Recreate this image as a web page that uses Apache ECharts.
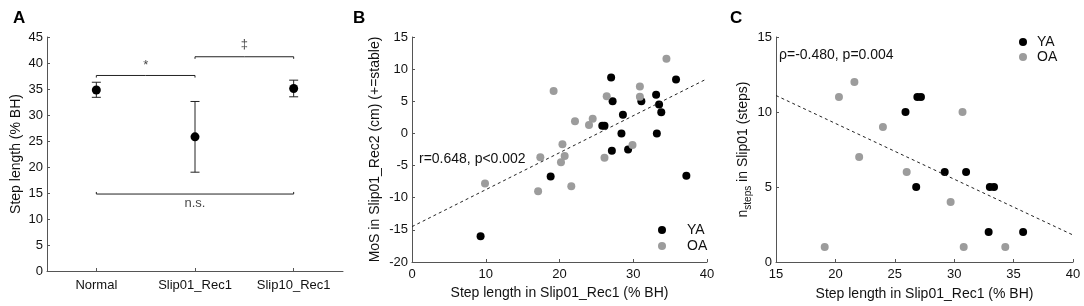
<!DOCTYPE html>
<html>
<head>
<meta charset="utf-8">
<script src="https://cdn.jsdelivr.net/npm/echarts@6/dist/echarts.min.js"></script>
<style>
  html, body { margin: 0; padding: 0; background: #fff; }
  #chart { width: 1084px; height: 306px; }
</style>
</head>
<body>
<div id="chart"></div>
<script>
// panel A: mean step length with error bars
var conditions = ['Normal', 'Slip01_Rec1', 'Slip10_Rec1']
var stepMean = [34.8, 25.8, 35.1]
var stepLow = [33.4, 19.0, 33.5]
var stepHigh = [36.3, 32.6, 36.7]
// brackets: [fromIndex, toIndex, height, label, direction]
var brackets = [
  [0, 1, 37.6, '*', -1],
  [1, 2, 41.2, '‡', -1],
  [0, 2, 14.8, 'n.s.', 1]
]

// panel B: step length vs MoS
var mosYA = [
  [27.0, 8.7], [27.2, 5.0], [35.8, 8.4], [33.1, 6.0], [33.5, 4.5], [33.8, 3.3],
  [31.1, 5.0], [28.6, 2.9], [25.8, 1.2], [26.1, 1.2], [28.4, 0.0], [33.2, 0.0],
  [27.1, -2.7], [29.3, -2.5], [18.8, -6.7], [37.2, -6.6], [9.3, -16.0]
]
var mosOA = [
  [34.5, 11.6], [30.9, 7.3], [30.9, 5.7], [19.2, 6.6], [26.4, 5.8], [22.1, 1.9],
  [24.5, 2.3], [24.0, 1.3], [20.4, -1.7], [29.9, -1.8], [20.7, -3.5], [20.2, -4.5],
  [17.4, -3.7], [26.1, -3.8], [21.6, -8.2], [17.1, -9.0], [9.9, -7.8]
]
var mosFit = [[0, -14.5], [40, 8.5]]

// panel C: step length vs number of steps
var stepsYA = [
  [26.9, 11], [27.2, 11], [25.9, 10], [29.2, 6], [31.0, 6], [26.8, 5],
  [33.0, 5], [33.35, 5], [32.9, 2], [35.8, 2]
]
var stepsOA = [
  [21.6, 12], [20.3, 11], [30.7, 10], [24.0, 9], [22.0, 7], [26.0, 6],
  [29.7, 4], [19.1, 1], [30.8, 1], [34.3, 1]
]
var stepsFit = [[15, 11.1], [40, 1.8]]

var axisColor = '#555'
var grayDot = '#9c9c9c'
var font = 'Arial, "Liberation Sans", sans-serif'

function valueAxis(gridIndex, min, max, interval, extra) {
  return Object.assign({
    type: 'value',
    gridIndex: gridIndex,
    min: min,
    max: max,
    interval: interval,
    splitLine: { show: false },
    axisLine: { show: true, onZero: false, lineStyle: { color: axisColor, width: 1 } },
    axisTick: { show: true, inside: true, length: 3, lineStyle: { color: axisColor } },
    axisLabel: { color: '#111', fontSize: 13, fontFamily: font, margin: 4 },
    nameLocation: 'middle',
    nameTextStyle: { color: '#111', fontSize: 14, fontFamily: font }
  }, extra || {})
}

function bracketLine(b) {
  var x1 = b[0], x2 = b[1], y = b[2], d = b[4] * 0.4
  var mid = (x1 + x2) / 2
  return [[x1, y + d], [x1, y], [mid, y], [mid, y - d * 0.6], [mid, y], [x2, y], [x2, y + d]]
}

var bracketSeries = brackets.map(function (b) {
  return {
    type: 'line',
    xAxisIndex: 1,
    yAxisIndex: 0,
    data: bracketLine(b),
    symbol: 'none',
    lineStyle: { color: '#222', width: 1 },
    silent: true
  }
})

var chart = echarts.init(document.getElementById('chart'))
chart.setOption({
  animation: false,
  textStyle: { fontFamily: font },
  grid: [
    { left: 47, right: 741, top: 37, bottom: 35 },
    { left: 412, right: 377, top: 37, bottom: 44 },
    { left: 776, right: 11, top: 37, bottom: 44 }
  ],
  title: [
    { text: 'A', left: 8, top: 5, textStyle: { fontSize: 17, fontWeight: 'bold', color: '#000', fontFamily: font } },
    { text: 'B', left: 348, top: 5, textStyle: { fontSize: 17, fontWeight: 'bold', color: '#000', fontFamily: font } },
    { text: 'C', left: 725, top: 5, textStyle: { fontSize: 17, fontWeight: 'bold', color: '#000', fontFamily: font } }
  ],
  legend: [
    {
      data: ['YA', 'OA'].map(function (n) { return { name: n } }),
      orient: 'vertical',
      left: 653,
      top: 218,
      itemWidth: 8,
      itemHeight: 8,
      itemGap: 2,
      icon: 'circle',
      textStyle: { fontSize: 14, color: '#111', padding: [0, 0, 0, 16] },
      selectedMode: false
    },
    {
      data: ['YA ', 'OA '].map(function (n) { return { name: n } }),
      orient: 'vertical',
      left: 1014,
      top: 30,
      itemWidth: 8,
      itemHeight: 8,
      itemGap: 1,
      icon: 'circle',
      textStyle: { fontSize: 14, color: '#111', padding: [0, 0, 0, 5] },
      selectedMode: false
    }
  ],
  xAxis: [
    {
      type: 'category',
      gridIndex: 0,
      data: conditions,
      axisLine: { lineStyle: { color: axisColor } },
      axisTick: { show: true, inside: true, length: 3, alignWithLabel: true, lineStyle: { color: axisColor } },
      axisLabel: { color: '#111', fontSize: 13, fontFamily: font, margin: 8 }
    },
    { type: 'value', gridIndex: 0, min: -0.5, max: 2.5, show: false },
    valueAxis(1, 0, 40, 10, { name: 'Step length in Slip01_Rec1 (% BH)', nameGap: 24, axisLabel: { color: '#111', fontSize: 13, fontFamily: font, margin: 6 } }),
    valueAxis(2, 15, 40, 5, { name: 'Step length in Slip01_Rec1 (% BH)', nameGap: 25, axisLabel: { color: '#111', fontSize: 13, fontFamily: font, margin: 6 } })
  ],
  yAxis: [
    valueAxis(0, 0, 45, 5, { name: 'Step length (% BH)', nameGap: 24 }),
    valueAxis(1, -20, 15, 5, { name: 'MoS in Slip01_Rec2 (cm) (+=stable)', nameGap: 30 }),
    valueAxis(2, 0, 15, 5, {
      name: '{a|n}{b|steps}{a| in Slip01 (steps)}',
      nameGap: 21,
      nameTextStyle: {
        color: '#111',
        fontFamily: font,
        rich: {
          a: { fontSize: 14, color: '#111', fontFamily: font, lineHeight: 18 },
          b: { fontSize: 10, color: '#111', fontFamily: font, padding: [10, 0, 0, 0] }
        }
      }
    })
  ],
  graphic: [
    { type: 'text', left: 419, top: 152, style: { text: 'r=0.648, p<0.002', fontSize: 14, fontFamily: font, fill: '#111' } },
    { type: 'text', left: 779, top: 48, style: { text: 'ρ=-0.480, p=0.004', fontSize: 14, fontFamily: font, fill: '#111' } }
  ],
  series: [
    {
      type: 'custom',
      xAxisIndex: 0,
      yAxisIndex: 0,
      data: stepLow.map(function (lo, i) { return [i, lo, stepHigh[i]] }),
      renderItem: function (params, api) {
        var lo = api.coord([api.value(0), api.value(1)])
        var hi = api.coord([api.value(0), api.value(2)])
        var w = 4.5
        var st = { stroke: '#222', lineWidth: 1 }
        return {
          type: 'group',
          children: [
            { type: 'line', shape: { x1: lo[0], y1: lo[1], x2: hi[0], y2: hi[1] }, style: st },
            { type: 'line', shape: { x1: lo[0] - w, y1: lo[1], x2: lo[0] + w, y2: lo[1] }, style: st },
            { type: 'line', shape: { x1: hi[0] - w, y1: hi[1], x2: hi[0] + w, y2: hi[1] }, style: st }
          ]
        }
      },
      silent: true,
      z: 2
    },
    {
      type: 'scatter',
      xAxisIndex: 0,
      yAxisIndex: 0,
      data: stepMean,
      symbolSize: 9,
      itemStyle: { color: '#000', opacity: 1 },
      z: 3
    }
  ].concat(bracketSeries).concat([
    {
      type: 'scatter',
      xAxisIndex: 1,
      yAxisIndex: 0,
      data: brackets.map(function (b) {
        var up = b[4] < 0 ? (b[3] === '*' ? 1.9 : 2.4) : -1.8
        return [(b[0] + b[1]) / 2, b[2] + up, b[3]]
      }),
      symbolSize: 0,
      label: {
        show: true,
        position: 'inside',
        formatter: function (p) { return p.value[2] },
        color: '#111',
        fontSize: 13,
        fontFamily: font
      },
      silent: true
    },
    {
      name: 'YA',
      type: 'scatter',
      xAxisIndex: 2,
      yAxisIndex: 1,
      data: mosYA,
      symbolSize: 8,
      itemStyle: { color: '#000', opacity: 1 }
    },
    {
      name: 'OA',
      type: 'scatter',
      xAxisIndex: 2,
      yAxisIndex: 1,
      data: mosOA,
      symbolSize: 8,
      itemStyle: { color: grayDot, opacity: 1 }
    },
    {
      type: 'line',
      xAxisIndex: 2,
      yAxisIndex: 1,
      data: mosFit,
      symbol: 'none',
      lineStyle: { color: '#222', width: 1, type: [3, 3] },
      silent: true
    },
    {
      name: 'YA ',
      type: 'scatter',
      xAxisIndex: 3,
      yAxisIndex: 2,
      data: stepsYA,
      symbolSize: 8,
      itemStyle: { color: '#000', opacity: 1 }
    },
    {
      name: 'OA ',
      type: 'scatter',
      xAxisIndex: 3,
      yAxisIndex: 2,
      data: stepsOA,
      symbolSize: 8,
      itemStyle: { color: grayDot, opacity: 1 }
    },
    {
      type: 'line',
      xAxisIndex: 3,
      yAxisIndex: 2,
      data: stepsFit,
      symbol: 'none',
      lineStyle: { color: '#222', width: 1, type: [3, 3] },
      silent: true
    }
  ])
})
</script>
</body>
</html>
